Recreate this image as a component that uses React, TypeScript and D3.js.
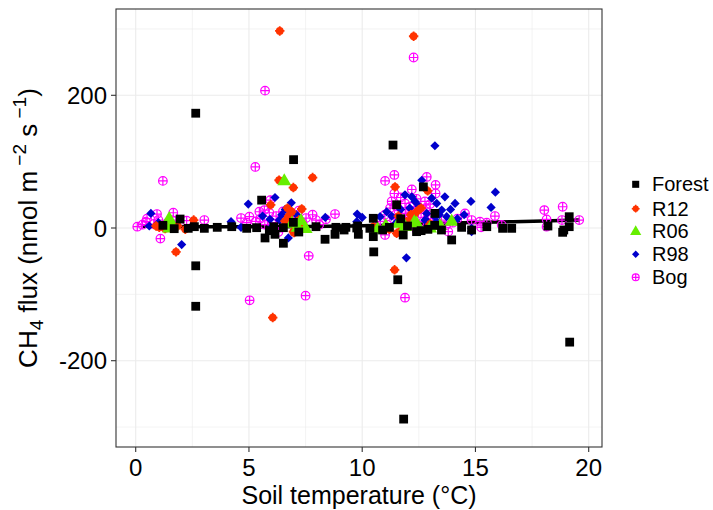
import React from 'react';
import * as d3 from 'd3';

// [soil temperature, CH4 flux] pairs
const forest: [number, number][] = [
  [2.65, 173], [2.65, -118], [2.65, -57], [6.97, 103], [11.36, 125], [5.56, 42], [11.52, 35],
  [10.51, -36], [11.57, -78], [11.83, -288], [19.16, -172], [12.7, 62], [5.71, -15], [6.52, -23],
  [8.36, -17], [8.8, -9.5], [9.83, -9.5], [6.15, -9.5], [10.49, -13], [11.81, -10.5], [12.4, -5.5],
  [13.95, -18], [14.39, 1], [16.2, -0.5], [16.6, -0.5], [18.85, -6.5], [19.14, 17], [19.14, 2],
  [14.83, -3], [1.96, 13.5], [2.59, 2], [2.32, -0.5], [3.03, -0.5], [4.24, 2], [4.9, -0.5],
  [5.34, 0.5], [6.52, 0.5], [6.96, 8.5], [7.96, 2], [8.84, 1], [9.28, 1], [9.76, 0],
  [10.34, -0.5], [10.49, 14.6], [13.21, 22], [10.9, -3], [12.0, 3], [12.9, -2], [13.2, 4],
  [11.7, 14], [9.2, -3], [1.2, 4], [1.7, -1], [3.6, 1], [7.2, -6], [9.8, 3], [13.5, -3],
  [15.5, 2], [18.2, 3], [18.9, -3], [6.1, 2], [5.9, -4], [11.2, 1], [12.6, -4],
];
const r12: [number, number][] = [
  [6.36, 297], [12.27, 289], [6.33, 72], [7.81, 76], [6.96, 61], [5.96, 35], [6.05, -135],
  [1.78, -36], [11.45, 62], [12.89, 56], [11.43, -63], [6.99, -7], [1.04, 1], [1.85, 3],
  [2.19, -2], [2.56, 12], [6.89, 24.5], [7.33, 28.6], [6.59, 10.5], [6.96, -5.5], [7.33, 5.5],
  [10.49, 2], [11.52, -8], [11.96, 9.5], [12.48, 27], [12.33, 22], [11.96, 2], [12.6, 30],
  [11.2, -2], [11.8, 4], [12.2, 14], [0.9, 3], [1.3, -1], [11.6, 18], [6.7, 30], [7.2, 12],
  [13.0, 6], [6.75, 18], [7.05, 3], [12.15, 20], [11.7, -4],
];
const r06: [number, number][] = [
  [6.56, 72], [1.48, 15], [1.48, 1], [10.68, -0.5], [11.04, 4.5], [11.6, 8], [12.4, 8],
  [12.99, 1], [13.44, 4.5], [13.95, 11], [7.15, 2], [7.3, 12], [7.5, 0], [12.3, 10],
  [11.9, 3], [6.9, 8], [1.6, 5],
];
const r98: [number, number][] = [
  [13.21, 124], [4.97, 36], [6.15, 46], [6.87, 38], [2.03, -25], [6.74, -15], [11.89, 50],
  [15.88, 54], [14.8, 40], [14.1, 37], [13.65, 47], [15.69, 31], [11.95, -45], [14.83, -0.5],
  [14.83, -5.5], [9.78, 21], [10.0, 16], [13.51, 27], [13.07, 45], [13.29, 37], [12.33, 40],
  [12.19, 47], [13.73, 17], [13.21, 17], [12.85, 22], [12.77, 12], [12.63, 72], [10.79, 17],
  [11.08, 24.5], [0.67, 22], [4.21, 9.5], [4.65, 1], [5.99, 1], [5.93, 13], [6.34, 12],
  [6.45, 20], [8.37, 16], [9.76, 9.5], [0.6, 3], [1.0, 8], [12.1, 30], [11.3, 18],
  [13.28, 9.5], [12.89, 9.5], [14.5, 20], [13.9, 28], [12.5, 33], [11.7, 28], [13.4, 20],
  [6.6, 28], [5.6, 18], [7.1, 20], [14.2, 14], [11.5, 8],
];
const bog: [number, number][] = [
  [5.71, 207], [12.27, 257], [5.28, 92], [1.2, 71], [5.94, 42], [1.09, -16], [5.03, -109],
  [7.5, -102], [7.64, -42], [11.01, 71], [11.42, 80], [11.42, 52], [12.85, 77], [13.24, 65],
  [13.24, 52], [12.19, 58], [11.89, -105], [18.04, 27], [18.85, 32], [18.14, 13], [18.14, 2],
  [19.58, 12], [18.82, 12], [15.86, 18], [16.16, 4.5], [15.5, 8], [15.25, 1], [14.54, 22],
  [14.83, 12], [15.2, 9.5], [0.07, 2], [0.45, 9.5], [0.94, 21], [1.66, 23], [2.25, 11],
  [3.03, 12], [4.65, 15], [5.02, 17], [5.46, 24.5], [5.68, 27], [5.9, 23], [7.52, 15],
  [7.81, 20], [7.96, 12], [8.4, 13], [8.8, 21], [7.37, 8], [12.77, 40], [11.89, 37],
  [11.23, 30], [12.11, 32], [10.8, 10], [11.0, 20], [11.4, 14], [11.6, 26], [11.9, 22],
  [12.0, 12], [12.2, 6], [12.3, 18], [12.5, 28], [12.7, 10], [12.9, 20], [13.1, 14],
  [13.3, 6], [13.5, 12], [13.7, 4], [14.0, 8], [14.2, 14], [10.6, 3], [11.1, 5], [12.4, -3],
  [11.01, -10.5], [13.8, -5.5], [0.5, 14], [0.8, 6], [1.0, 12], [1.4, 8], [1.8, 4], [0.3, 5],
  [6.0, 8], [6.2, 18], [5.3, 10], [5.7, 5], [6.5, 25], [7.0, 18], [8.1, 5], [4.9, 8], [6.3, -6],
  [11.3, 40], [11.7, 46], [12.4, 44], [12.6, 22], [11.5, 33], [12.8, 30], [13.0, 36],
  [11.8, 8], [12.1, 24], [6.4, 12], [6.8, 14], [5.5, 14], [7.2, 26], [1.1, 3], [1.6, 12],
];

// fitted line
const trendTemp = [0.3, 3, 6, 9, 12, 14, 16, 18, 19.6];
const trendFlux = [2.5, 2, 2, 3, 5, 7.5, 9, 10.5, 12];

const xTicks = [0, 5, 10, 15, 20];
const xMinor = [2.5, 7.5, 12.5, 17.5];
const yTicks = [-200, 0, 200];
const yMinor = [-300, -100, 100, 300];

const groups = ['Forest', 'R12', 'R06', 'R98', 'Bog'];
const colors: Record<string, string> = {
  Forest: '#000000',
  R12: '#FF3300',
  R06: '#66EE00',
  R98: '#0000CC',
  Bog: '#FF00FF',
};
const FONT = '"Liberation Sans", Arial, sans-serif';

const Marker = ({ group, x, y, s = 1 }: { group: string; x: number; y: number; s?: number }) => {
  const c = colors[group];
  if (group === 'Forest') {
    const h = 4.4 * s;
    return <rect x={x - h} y={y - h} width={2 * h} height={2 * h} fill={c} />;
  }
  if (group === 'R12') {
    const r = 3.9 * s;
    return (
      <g>
        <circle cx={x} cy={y} r={r} fill={c} />
        <path d={`M${x - r - 0.8},${y}H${x + r + 0.8}M${x},${y - r - 0.8}V${y + r + 0.8}`} stroke={c} strokeWidth={1.8 * s} />
      </g>
    );
  }
  if (group === 'R06') {
    const p = d3.symbol(d3.symbolTriangle, 85 * s * s)();
    return <path d={p || ''} transform={`translate(${x},${y + 1})`} fill={c} />;
  }
  if (group === 'R98') {
    const h = 4.6 * s;
    return <path d={`M${x},${y - h}L${x + h},${y}L${x},${y + h}L${x - h},${y}Z`} fill={c} />;
  }
  const r = 4.3 * s;
  return (
    <g fill="none" stroke={c} strokeWidth={1.2}>
      <circle cx={x} cy={y} r={r} />
      <path d={`M${x - r},${y}H${x + r}M${x},${y - r}V${y + r}`} />
    </g>
  );
};

export default function App() {
  const W = 713;
  const H = 510;
  const left = 116;
  const right = 602;
  const top = 9;
  const bottom = 447;

  const x = d3.scaleLinear().domain([0, 20]).range([135.7, 588.7]);
  const y = d3.scaleLinear().domain([-200, 200]).range([360.7, 95.3]);

  const series: Record<string, [number, number][]> = { Forest: forest, R12: r12, R06: r06, R98: r98, Bog: bog };
  const drawOrder = ['Bog', 'R98', 'R12', 'R06', 'Forest'];

  const trend = d3
    .line<number>()
    .x((d) => x(d))
    .y((_, i) => y(trendFlux[i]))
    .curve(d3.curveMonotoneX)(trendTemp);

  const grid = '#EBEBEB';
  const axisCol = '#333333';

  return (
    <svg width={W} height={H} style={{ position: 'absolute', left: 0, top: 0 }} fontFamily={FONT}>
      <rect width={W} height={H} fill="#fff" />
      <defs>
        <clipPath id="panel">
          <rect x={left} y={top} width={right - left} height={bottom - top} />
        </clipPath>
      </defs>

      {xMinor.map((t) => (
        <line key={'xm' + t} x1={x(t)} x2={x(t)} y1={top} y2={bottom} stroke={grid} strokeWidth={0.6} />
      ))}
      {yMinor.map((t) => (
        <line key={'ym' + t} x1={left} x2={right} y1={y(t)} y2={y(t)} stroke={grid} strokeWidth={0.6} />
      ))}
      {xTicks.map((t) => (
        <line key={'xg' + t} x1={x(t)} x2={x(t)} y1={top} y2={bottom} stroke={grid} strokeWidth={1.1} />
      ))}
      {yTicks.map((t) => (
        <line key={'yg' + t} x1={left} x2={right} y1={y(t)} y2={y(t)} stroke={grid} strokeWidth={1.1} />
      ))}

      <g clipPath="url(#panel)">
        <path d={trend || ''} fill="none" stroke="#000" strokeWidth={3.5} />
        {drawOrder.map((g) =>
          series[g].map((d, i) => <Marker key={g + i} group={g} x={x(d[0])} y={y(d[1])} />)
        )}
      </g>

      <rect x={left} y={top} width={right - left} height={bottom - top} fill="none" stroke={axisCol} strokeWidth={1.1} />

      {xTicks.map((t) => (
        <g key={'xt' + t}>
          <line x1={x(t)} x2={x(t)} y1={bottom} y2={bottom + 5} stroke={axisCol} strokeWidth={1.1} />
          <text x={x(t)} y={476} textAnchor="middle" fontSize={24} fill="#000">
            {t}
          </text>
        </g>
      ))}
      {yTicks.map((t) => (
        <g key={'yt' + t}>
          <line x1={left - 5} x2={left} y1={y(t)} y2={y(t)} stroke={axisCol} strokeWidth={1.1} />
          <text x={107} y={y(t) + 8.5} textAnchor="end" fontSize={24} fill="#000">
            {t}
          </text>
        </g>
      ))}

      <text x={(left + right) / 2} y={504} textAnchor="middle" fontSize={25} fill="#000">
        Soil temperature (°C)
      </text>

      <text transform={`translate(37,${(top + bottom) / 2}) rotate(-90)`} textAnchor="middle" fontSize={26} fill="#000">
        CH
        <tspan fontSize={19} dy={6}>4</tspan>
        <tspan dy={-6}> flux (nmol m</tspan>
        <tspan fontSize={19} dy={-11}> −2</tspan>
        <tspan dy={11}> s</tspan>
        <tspan fontSize={19} dy={-11}> −1</tspan>
        <tspan dy={11}>)</tspan>
      </text>

      {groups.map((g, i) => {
        const ly = [184.3, 208.7, 230.7, 254.3, 277.3][i];
        return (
          <g key={'lg' + g}>
            <Marker group={g} x={635.7} y={ly} s={0.8} />
            <text x={652} y={ly + 7} fontSize={20} fill="#000">
              {g}
            </text>
          </g>
        );
      })}
    </svg>
  );
}
